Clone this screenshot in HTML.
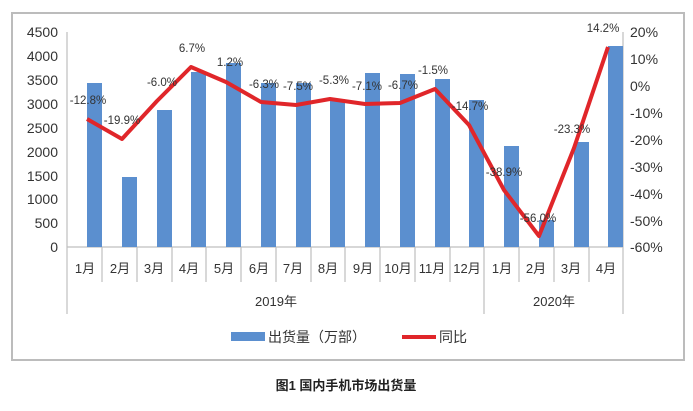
<!DOCTYPE html>
<html><head><meta charset="utf-8"><style>
body{margin:0;background:#fff}
svg{display:block;font-family:"Liberation Sans","Noto Sans CJK SC",sans-serif}
</style></head><body>
<svg width="693" height="411" viewBox="0 0 693 411">
<rect x="12" y="13" width="672" height="347" fill="#fff" stroke="#bcbcbc" stroke-width="2"/>
<g font-size="14" fill="#333" text-anchor="end">
<text x="58" y="37">4500</text><text x="58" y="61">4000</text><text x="58" y="85">3500</text><text x="58" y="109">3000</text><text x="58" y="133">2500</text><text x="58" y="157">2000</text><text x="58" y="181">1500</text><text x="58" y="204">1000</text><text x="58" y="228">500</text><text x="58" y="252">0</text>
</g>
<g font-size="14" fill="#333" text-anchor="start">
<text x="630" y="37">20%</text><text x="630" y="64">10%</text><text x="630" y="91">0%</text><text x="630" y="118">-10%</text><text x="630" y="145">-20%</text><text x="630" y="172">-30%</text><text x="630" y="199">-40%</text><text x="630" y="226">-50%</text><text x="630" y="252">-60%</text>
</g>
<g stroke="#bfbfbf" stroke-width="1.2">
<line x1="67" y1="32" x2="67" y2="247"/><line x1="623" y1="32" x2="623" y2="247"/>
<line x1="67" y1="247" x2="623" y2="247"/>
</g>
<g fill="#5b8fcf">
<rect x="87" y="83" width="15" height="164"/>
<rect x="122" y="177" width="15" height="70"/>
<rect x="157" y="110" width="15" height="137"/>
<rect x="191" y="72" width="15" height="175"/>
<rect x="226" y="63" width="15" height="184"/>
<rect x="261" y="83" width="15" height="164"/>
<rect x="296" y="83" width="15" height="164"/>
<rect x="330" y="99" width="15" height="148"/>
<rect x="365" y="73" width="15" height="174"/>
<rect x="400" y="74" width="15" height="173"/>
<rect x="435" y="79" width="15" height="168"/>
<rect x="469" y="100" width="15" height="147"/>
<rect x="504" y="146" width="15" height="101"/>
<rect x="539" y="220" width="15" height="27"/>
<rect x="574" y="142" width="15" height="105"/>
<rect x="608" y="46" width="15" height="201"/>
</g>
<polyline fill="none" stroke="#e0262a" stroke-width="4" stroke-linejoin="round" points="87,119 122,139 157,101 191,67 226,82 261,102 296,105 330,99 365,104 400,103 435,89 469,125 504,190 539,236 574,148 608,47"/>
<g font-size="11.5" fill="#333" text-anchor="middle">
<text x="88" y="104">-12.8%</text><text x="122" y="124">-19.9%</text><text x="162" y="86">-6.0%</text><text x="192" y="52">6.7%</text><text x="230" y="66">1.2%</text><text x="264" y="88">-6.3%</text><text x="298" y="90">-7.5%</text><text x="334" y="84">-5.3%</text><text x="367" y="90">-7.1%</text><text x="403" y="89">-6.7%</text><text x="433" y="74">-1.5%</text><text x="470" y="110">-14.7%</text><text x="504" y="176">-38.9%</text><text x="538" y="222">-56.0%</text><text x="572" y="133">-23.3%</text><text x="603" y="32">14.2%</text>
</g>
<g stroke="#bfbfbf" stroke-width="1.2">
<line x1="67" y1="247" x2="67" y2="314"/><line x1="484" y1="247" x2="484" y2="314"/><line x1="623" y1="247" x2="623" y2="314"/>
<line x1="102" y1="247" x2="102" y2="282"/><line x1="137" y1="247" x2="137" y2="282"/><line x1="172" y1="247" x2="172" y2="282"/><line x1="206" y1="247" x2="206" y2="282"/><line x1="241" y1="247" x2="241" y2="282"/><line x1="276" y1="247" x2="276" y2="282"/><line x1="311" y1="247" x2="311" y2="282"/><line x1="345" y1="247" x2="345" y2="282"/><line x1="380" y1="247" x2="380" y2="282"/><line x1="415" y1="247" x2="415" y2="282"/><line x1="450" y1="247" x2="450" y2="282"/><line x1="519" y1="247" x2="519" y2="282"/><line x1="554" y1="247" x2="554" y2="282"/><line x1="589" y1="247" x2="589" y2="282"/>
</g>
<g font-size="13" fill="#333" text-anchor="middle">
<text x="85" y="273">1月</text><text x="120" y="273">2月</text><text x="154" y="273">3月</text><text x="189" y="273">4月</text><text x="224" y="273">5月</text><text x="259" y="273">6月</text><text x="293" y="273">7月</text><text x="328" y="273">8月</text><text x="363" y="273">9月</text><text x="398" y="273">10月</text><text x="432" y="273">11月</text><text x="467" y="273">12月</text><text x="502" y="273">1月</text><text x="536" y="273">2月</text><text x="571" y="273">3月</text><text x="606" y="273">4月</text>
<text x="276" y="306">2019年</text><text x="554" y="306">2020年</text>
</g>
<rect x="231" y="332" width="34" height="9" fill="#5b8fcf"/>
<text x="268" y="342" font-size="14" fill="#333">出货量（万部）</text>
<line x1="402" y1="337" x2="436" y2="337" stroke="#e0262a" stroke-width="4"/>
<text x="439" y="342" font-size="14" fill="#333">同比</text>
<text x="346" y="390" font-size="13" font-weight="bold" fill="#222" text-anchor="middle">图1  国内手机市场出货量</text>
</svg>
</body></html>
